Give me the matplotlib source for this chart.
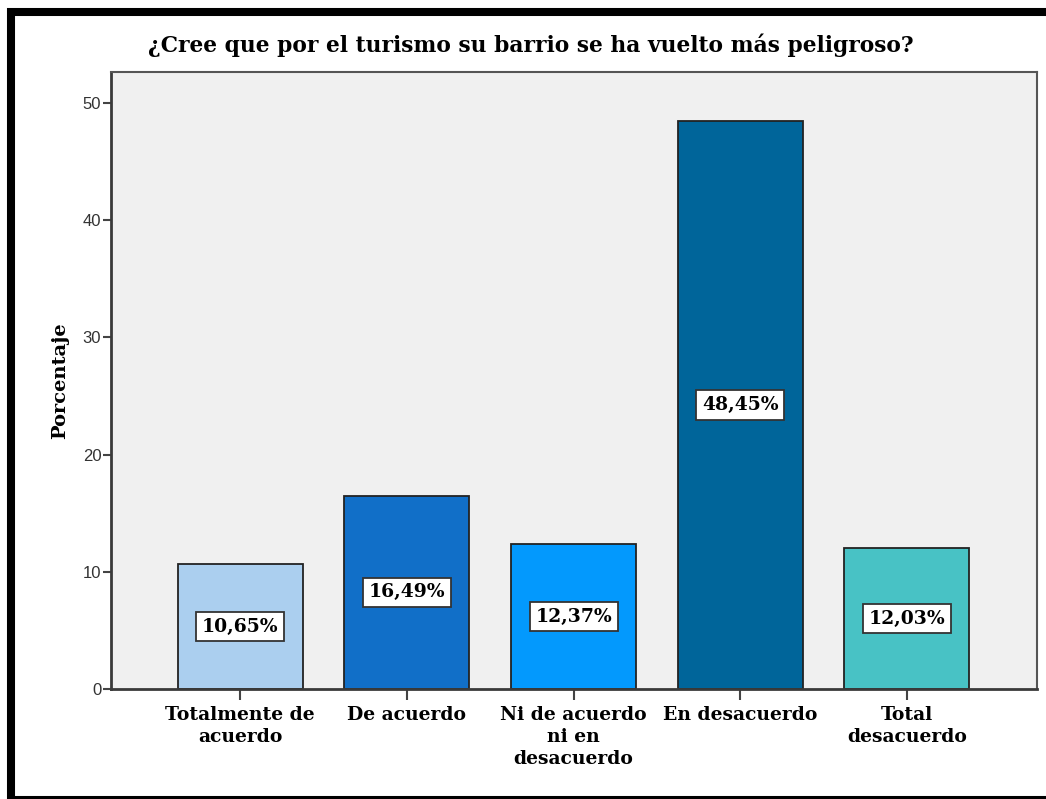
import matplotlib.pyplot as plt
from matplotlib.patches import Rectangle

categorias = ["Totalmente de\nacuerdo", "De acuerdo", "Ni de acuerdo\nni en\ndesacuerdo",
              "En desacuerdo", "Total\ndesacuerdo"]
porcentajes = [10.65, 16.49, 12.37, 48.45, 12.03]
etiquetas = ["10,65%", "16,49%", "12,37%", "48,45%", "12,03%"]
colores = ["#abcfef", "#116fc8", "#0399fd", "#00659a", "#48c2c5"]

W, H = 1046, 799
fig = plt.figure(figsize=(W / 100, H / 100), dpi=100)
fig.patch.set_facecolor("white")

# area del grafico en pixeles: izquierda 111, derecha 1037, arriba 72, abajo 689
ax = fig.add_axes([111 / W, 1 - 689 / H, (1037 - 111) / W, (689 - 72) / H])
ax.set_facecolor("#f0f0f0")

x = range(len(categorias))
ax.bar(x, porcentajes, width=0.75, color=colores, edgecolor="#222222", linewidth=1.3, zorder=2)

for i, (v, t) in enumerate(zip(porcentajes, etiquetas)):
    ax.text(i, v / 2, t, ha="center", va="center", fontsize=13.5, fontweight="bold",
            family="DejaVu Serif", zorder=3,
            bbox=dict(boxstyle="square,pad=0.3", fc="white", ec="#333333", lw=1.3))

ax.set_xlim(-0.775, 4.78)
ax.set_ylim(0, 52.65)
ax.set_xticks(list(x))
ax.set_xticklabels(categorias, fontsize=13.5, fontweight="bold", family="DejaVu Serif",
                   linespacing=1.3)
ax.set_yticks([0, 10, 20, 30, 40, 50])
ax.set_yticklabels(["0", "10", "20", "30", "40", "50"], family="Liberation Sans", fontsize=12,
                   color="#333333")
ax.tick_params(axis="y", direction="out", length=6, width=1.5, color="#444444", pad=1)
ax.tick_params(axis="x", direction="out", length=8, width=1.5, color="#444444", pad=4)

for lado in ["left", "bottom"]:
    ax.spines[lado].set_color("#3a3a3a")
    ax.spines[lado].set_linewidth(2)
for lado in ["top", "right"]:
    ax.spines[lado].set_color("#555555")
    ax.spines[lado].set_linewidth(1.5)

ax.set_ylabel("Porcentaje", fontsize=14, fontweight="bold", family="DejaVu Serif", labelpad=10)

fig.text(148 / W, 1 - 45 / H, "¿Cree que por el turismo su barrio se ha vuelto más peligroso?",
         ha="left", va="center", fontsize=15.7, family="DejaVu Serif", fontweight="bold")

# marco negro exterior
fig.patches.append(Rectangle((11 / W, -1 / H), 1.1, 1 - 10.5 / H, transform=fig.transFigure,
                             fill=False, ec="black", lw=5.8, zorder=10))

fig.savefig("out.png", dpi=100)
